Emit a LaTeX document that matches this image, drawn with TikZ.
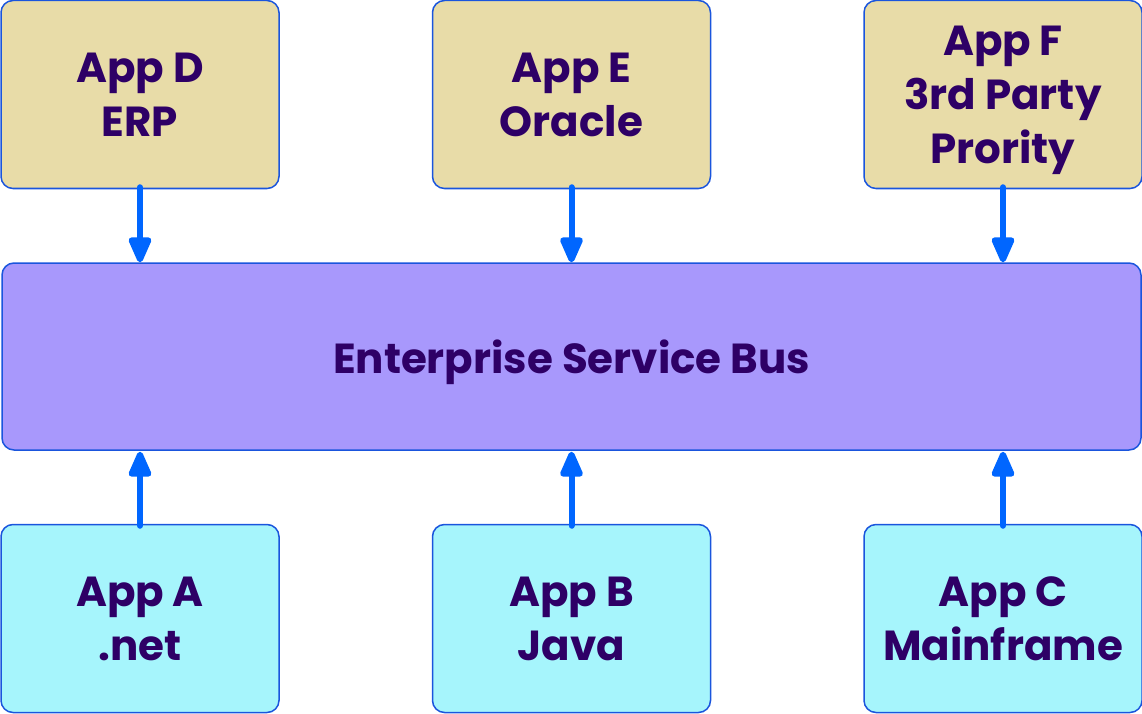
\documentclass[tikz,border=0pt]{standalone}
\usepackage{fontspec}
\setmainfont{Poppins}
\usepackage{xcolor}
\usepackage{tikz}
\usetikzlibrary{positioning,arrows.meta}
\definecolor{edge}{HTML}{1A55DD}
\definecolor{ink}{HTML}{2E0066}
\definecolor{sand}{HTML}{E8DCA8}
\definecolor{lilac}{HTML}{A898FC}
\definecolor{aqua}{HTML}{A6F5FC}
\definecolor{flow}{HTML}{0066FF}

\begin{document}
\begin{tikzpicture}[x=1pt, y=-1pt, font=\bfseries\fontsize{42}{54}\selectfont,
		app/.style={draw=edge, line width=1.5pt, rounded corners=12pt, text=ink, minimum width=278pt, minimum height=188pt, align=center, inner sep=0pt, text depth=0pt},
		arr/.style={draw=flow, line width=6pt, line cap=round, -{Triangle[length=30pt, width=24pt, round=false]}}]
		\useasboundingbox (0,0) rectangle (1142,714);
		\node[app, fill=lilac, minimum width=1139pt, minimum height=187pt] (bus) at (571.5,356.5) {Enterprise Service Bus};
		% senders above
		\node[app, fill=sand, above=73pt of bus] (appE) {App E\\Oracle};
		\node[app, fill=sand, left=152pt of appE] (appD) {App D\\ERP};
		\node[app, fill=sand, right=152pt of appE] (appF) {App F\\3rd Party\\Prority};
		% sources below
		\node[app, fill=aqua, below=73pt of bus] (appB) {App B\\Java};
		\node[app, fill=aqua, left=152pt of appB] (appA) {App A\\.net};
		\node[app, fill=aqua, right=152pt of appB] (appC) {App C\\Mainframe};
		\foreach \n in {appD,appE,appF}
			\draw[arr, shorten <=-2pt] (\n.south) -- (\n.south |- bus.north);
		\foreach \n in {appA,appB,appC}
			\draw[arr, shorten <=-2pt, shorten >=1pt] (\n.north) -- (\n.north |- bus.south);
	\end{tikzpicture}
\end{document}
